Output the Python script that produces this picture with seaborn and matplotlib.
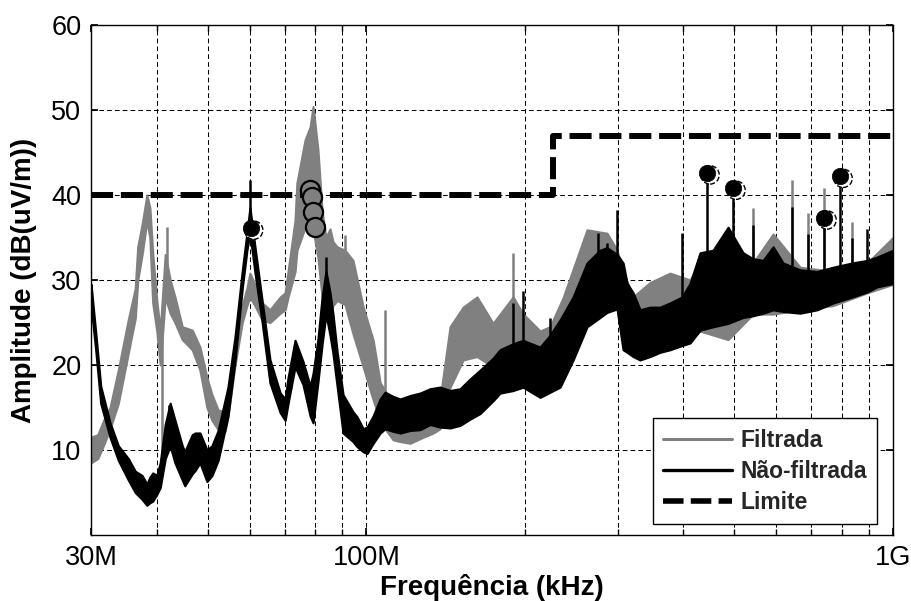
import numpy as np
import pandas as pd
import matplotlib
matplotlib.use("Agg")
import matplotlib.pyplot as plt
import matplotlib.transforms as mtransforms
from matplotlib.lines import Line2D
from matplotlib.ticker import NullFormatter
import seaborn as sns

# ---------------- data (frequency in MHz, amplitude in dB(uV/m)) ----------------
# "Não-filtrada" (black) spectrum, read as upper / lower envelope of the trace
black_f = [30.0, 30.6, 31.3, 32.6, 33.8, 35.3, 36.4, 37.5, 38.3, 38.8, 39.3, 40.0, 40.6,
           41.5, 42.4, 43.3, 44.7, 45.2, 46.7, 47.3, 48.3, 49.8, 50.9, 52.3, 54.6, 56.3,
           58.1, 59.3, 60.1, 61.4, 63.4, 65.6, 68.6, 70.1, 71.0, 73.2, 75.8, 78.2, 79.2,
           80.9, 82.4, 83.8, 85.3, 86.4, 88.0, 90.3, 94.3, 96.0, 98.6, 100.3, 103.0, 106.2,
           108.5, 112.4, 115.9, 121.0, 126.5, 132.1, 138.0, 144.2, 150.6, 157.0, 164.4,
           174.0, 179.4, 189.9, 198.4, 213.7, 223.2, 233.2, 246.9, 262.4, 277.8, 286.4,
           299.2, 307.2, 312.6, 320.9, 330.8, 345.6, 361.1, 377.2, 397.5, 411.7, 430.1,
           455.3, 486.1, 519.1, 542.3, 566.5, 591.9, 618.3, 666.0, 717.4, 769.4, 836.1,
           893.0, 932.9, 1000.0]
black_hi = [29.5, 24.0, 17.5, 13.2, 10.5, 9.0, 7.5, 7.0, 6.0, 6.8, 7.3, 7.0, 8.5,
            13.0, 15.5, 13.5, 10.5, 9.8, 11.8, 12.0, 12.0, 10.0, 10.5, 12.3, 17.4, 23.3,
            31.0, 35.5, 38.5, 34.0, 27.5, 20.6, 16.7, 16.0, 18.5, 22.9, 20.4, 17.5, 19.0,
            23.0, 28.0, 31.0, 28.5, 26.0, 21.5, 16.5, 14.5, 13.9, 12.5, 12.7, 14.0, 16.0,
            16.8, 16.3, 16.0, 16.4, 16.7, 17.2, 17.4, 17.0, 17.2, 18.3, 19.4,
            20.8, 21.8, 22.5, 22.9, 22.1, 23.5, 25.3, 28.0, 32.0, 33.5, 33.8,
            33.0, 32.0, 29.6, 28.5, 26.5, 26.8, 26.8, 27.3, 28.0, 29.6, 33.2,
            33.5, 36.2, 33.2, 32.5, 32.3, 33.9, 32.0, 31.2, 31.0, 31.5, 32.0,
            32.3, 32.7, 33.5]
black_lo = [27.0, 22.0, 15.5, 11.5, 8.8, 6.5, 5.0, 4.2, 3.5, 3.8, 4.0, 4.8, 5.6,
            9.0, 10.5, 8.5, 6.5, 5.8, 7.2, 7.6, 8.5, 6.3, 7.0, 8.8, 14.0, 20.5,
            29.0, 33.5, 35.5, 31.0, 25.0, 17.9, 14.4, 13.5, 15.5, 19.8, 17.7, 14.0, 13.2,
            18.0, 22.5, 26.0, 23.5, 21.4, 17.5, 12.0, 11.0, 10.4, 9.8, 9.6, 10.8, 12.0,
            12.5, 12.2, 12.0, 12.3, 12.4, 13.0, 12.7, 12.6, 12.9, 13.6, 14.3,
            15.8, 16.7, 17.0, 17.4, 16.2, 16.8, 17.4, 20.6, 24.5, 25.6, 26.2,
            26.6, 21.8, 21.5, 21.0, 20.6, 21.0, 21.5, 21.8, 22.3, 22.6, 24.1,
            24.5, 24.9, 25.6, 25.8, 26.1, 26.5, 26.3, 26.1, 26.5, 27.3, 28.0,
            28.6, 29.2, 29.6]
# narrow peaks of the black trace: frequency, foot, top
black_spike_f = [42.2, 60.1, 83.8, 189.9, 198.4, 223.2, 275.3, 286.4, 299.2, 397.5, 443.5,
                 496.8, 542.3, 643.1, 689.7, 739.7, 793.3, 836.1, 893.0]
black_spike_base = [10.0, 36.0, 29.0, 20.0, 20.0, 20.0, 28.0, 28.0, 28.0, 25.0, 30.0,
                    33.0, 30.0, 30.0, 30.0, 29.0, 30.0, 30.0, 30.0]
black_spike_top = [15.3, 41.8, 32.7, 27.3, 28.7, 25.5, 35.5, 34.4, 38.2, 35.5, 42.6,
                   40.8, 36.5, 38.6, 35.4, 37.3, 42.2, 35.0, 36.0]

# "Filtrada" (grey) spectrum
gray_f = [30.0, 30.9, 31.9, 32.6, 33.8, 35.3, 36.4, 36.8, 37.5, 38.3, 38.8, 39.3, 40.0,
          40.6, 41.5, 42.4, 43.3, 44.7, 46.7, 48.3, 49.8, 50.9, 52.3, 53.9, 54.6, 56.3,
          58.1, 59.3, 60.1, 61.4, 63.4, 65.6, 68.6, 70.1, 71.0, 73.2, 73.8, 76.5, 78.2,
          79.2, 80.9, 82.4, 83.8, 85.3, 86.4, 88.0, 91.1, 94.3, 98.6, 103.0, 106.2, 108.5,
          112.4, 115.9, 121.0, 128.1, 133.9, 138.0, 144.2, 152.6, 162.2, 174.0, 189.9,
          198.4, 213.7, 223.2, 236.3, 262.4, 286.4, 299.2, 307.2, 320.9, 345.6, 377.2,
          411.7, 430.1, 486.1, 542.3, 591.9, 666.0, 769.4, 893.0, 1000.0]
gray_hi = [11.5, 11.8, 13.9, 15.0, 19.4, 25.3, 29.0, 33.9, 36.5, 40.0, 38.5, 33.0, 27.5,
           24.0, 33.0, 30.0, 28.0, 24.5, 24.1, 22.1, 18.5, 16.5, 14.7, 14.5, 17.0, 22.5,
           27.0, 29.0, 30.8, 29.5, 27.3, 26.5, 28.0, 28.5, 31.0, 37.0, 41.4, 46.5, 48.0,
           50.4, 45.3, 38.0, 35.0, 36.0, 34.5, 33.9, 33.5, 32.3, 26.8, 22.9, 17.9, 17.0,
           13.9, 13.5, 14.4, 15.0, 14.9, 16.0, 24.5, 26.8, 28.0, 24.9, 28.0,
           26.0, 24.0, 24.5, 27.9, 35.9, 35.5, 33.5, 31.0, 28.0, 29.7, 30.8,
           30.0, 32.1, 34.0, 32.0, 35.4, 31.5, 31.0, 32.0, 35.0]
gray_lo = [8.5, 9.0, 11.0, 12.5, 15.5, 21.4, 25.5, 30.0, 33.0, 37.0, 35.0, 27.3, 24.0,
           20.0, 28.0, 26.1, 25.0, 23.0, 21.8, 19.4, 15.0, 13.5, 12.4, 12.2, 14.0, 20.0,
           25.0, 27.0, 28.0, 27.0, 25.3, 25.0, 26.1, 26.5, 28.0, 31.0, 33.5, 36.2, 37.0,
           36.0, 32.7, 28.0, 27.0, 26.0, 27.0, 27.6, 27.1, 23.7, 19.8, 15.9, 13.5, 12.5,
           11.2, 11.0, 10.8, 11.5, 12.0, 12.5, 17.4, 20.6, 21.0, 19.8, 22.4,
           20.0, 18.5, 18.0, 22.0, 27.6, 27.6, 27.0, 23.0, 22.0, 23.0, 23.5,
           23.0, 24.0, 23.0, 26.0, 26.0, 26.5, 27.0, 28.5, 29.5]
gray_spike_f = [40.9, 41.8, 91.1, 108.5, 189.9, 542.3, 643.1, 689.7, 739.7, 836.1]
gray_spike_base = [9.5, 28.0, 30.0, 15.0, 25.0, 30.0, 30.0, 30.0, 30.0, 30.0]
gray_spike_top = [26.0, 36.2, 35.3, 26.5, 33.2, 38.5, 41.8, 37.9, 40.8, 36.8]

# limit line
limit_f = [30.0, 226.0, 226.0, 1000.0]
limit_v = [40.0, 40.0, 47.0, 47.0]

# markers
black_marker_f = [60.3, 443.5, 496.8, 739.7, 793.3]
black_marker_v = [36.1, 42.6, 40.8, 37.3, 42.2]
gray_marker_f = [78.2, 78.8, 79.2, 79.9]
gray_marker_v = [40.6, 39.8, 38.0, 36.2]

# axis ticks
x_major = [30, 100, 1000]
x_major_labels = ["30M", "100M", "1G"]
x_minor = [40, 50, 60, 70, 80, 90, 200, 300, 400, 500, 600, 700, 800, 900]
y_ticks = [10, 20, 30, 40, 50, 60]
legend_labels = ["Filtrada", "Não-filtrada", "Limite"]

# ---------------- drawing ----------------
sns.set_theme(style="white")
plt.rcParams['font.family'] = ['Liberation Sans', 'DejaVu Sans']

GRAY = "#808080"
fig = plt.figure(figsize=(9.12, 6.01), dpi=100)
ax = fig.add_axes([0.0998, 0.1098, 0.8794, 0.8486])
ax.set_xscale('log')

ax.fill_between(gray_f, gray_lo, gray_hi, facecolor=GRAY, edgecolor=GRAY, lw=1.6, zorder=2)
ax.vlines(gray_spike_f, gray_spike_base, gray_spike_top, color=GRAY, lw=1.8, zorder=2)
ax.fill_between(black_f, black_lo, black_hi, facecolor="black", edgecolor="black", lw=1.6, zorder=3)
ax.vlines(black_spike_f, black_spike_base, black_spike_top, color="black", lw=1.8, zorder=3)

limit_df = pd.DataFrame({"f": limit_f, "v": limit_v})
sns.lineplot(data=limit_df, x="f", y="v", estimator=None, sort=False, color="black",
             lw=4.3, linestyle=(0, (3.7, 1.3)), ax=ax, zorder=4, legend=False)

offset = mtransforms.ScaledTranslation(3 / 100, -2 / 100, fig.dpi_scale_trans)
ax.scatter(black_marker_f, black_marker_v, s=175, facecolors="white", edgecolors="black",
           linestyle="--", linewidths=1.0, transform=ax.transData + offset, zorder=5)
ax.scatter(black_marker_f, black_marker_v, s=140, facecolors="black", edgecolors="black",
           linewidths=0.5, zorder=6)
ax.scatter(gray_marker_f, gray_marker_v, s=190, facecolors=GRAY, edgecolors="black",
           linewidths=1.6, zorder=6)

ax.set_xlim(30, 1000)
ax.set_ylim(0, 60)
ax.set_xticks(x_major)
ax.set_xticklabels(x_major_labels)
ax.set_xticks(x_minor, minor=True)
ax.xaxis.set_minor_formatter(NullFormatter())
ax.set_yticks(y_ticks)
ax.set_axisbelow(True)
ax.grid(True, which="both", color="black", linestyle=(0, (4.5, 3)), lw=0.75)

for sp in ax.spines.values():
    sp.set_color("black")
    sp.set_linewidth(1.0)
    sp.set_visible(True)
ax.tick_params(which="both", direction="in", top=True, right=True, bottom=True, left=True,
               color="black", labelcolor="black")
ax.tick_params(which="major", length=5, labelsize=19.5, pad=7)
ax.tick_params(which="minor", length=4)

ax.set_xlabel("Frequência (kHz)", fontsize=20, fontweight="bold", labelpad=2, color="black")
ax.set_ylabel("Amplitude (dB(uV/m))", fontsize=20, fontweight="bold", labelpad=10, color="black")

handles = [Line2D([], [], color=GRAY, lw=2.2),
           Line2D([], [], color="black", lw=2.4),
           Line2D([], [], color="black", lw=4.0, linestyle=(0, (3.7, 1.3)))]
leg = ax.legend(handles, legend_labels, loc="lower right", bbox_to_anchor=(0.98, 0.0216),
                borderaxespad=0, fancybox=False, framealpha=1, edgecolor="black",
                prop={"weight": "bold", "size": 16.5}, handlelength=3.0,
                handletextpad=0.35, labelspacing=0.35, borderpad=0.45)
leg.get_frame().set_linewidth(1.0)
leg.set_zorder(10)

fig.savefig("out.png", dpi=100)
